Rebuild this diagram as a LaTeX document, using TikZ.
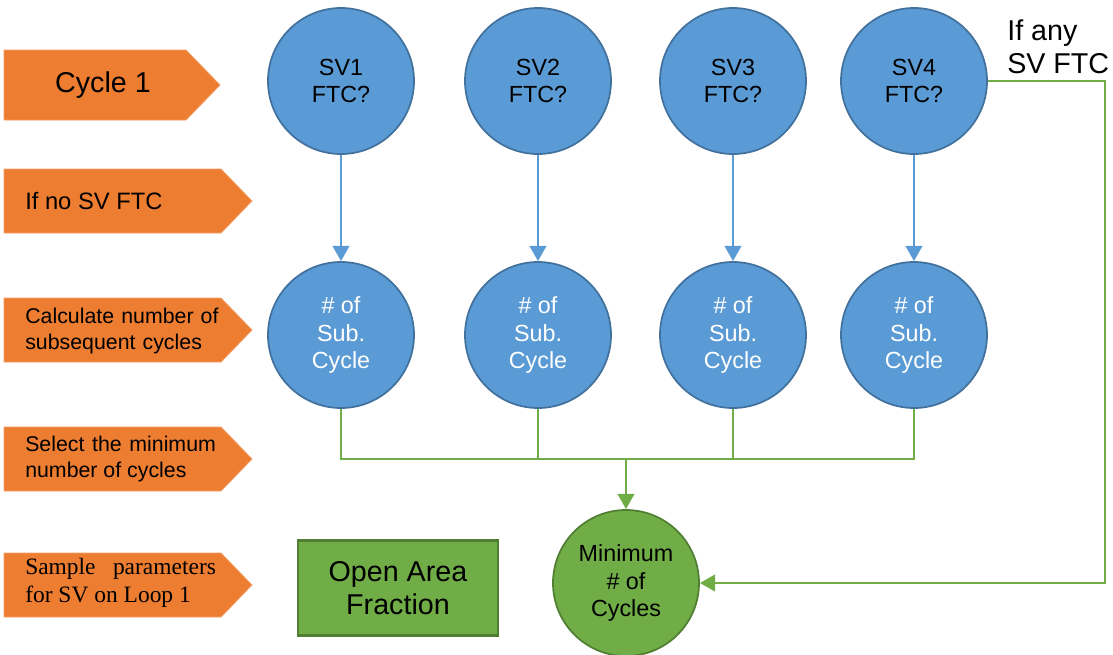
\documentclass[tikz,border=0pt]{standalone}
\usepackage{fontspec}
\setmainfont{Liberation Sans}
\newfontfamily\timesfont{Liberation Serif}
\usetikzlibrary{arrows.meta}

\definecolor{tagorange}{HTML}{ED7D31}
\definecolor{svblue}{HTML}{5B9BD5}
\definecolor{svborder}{HTML}{41719C}
\definecolor{mingreen}{HTML}{70AD47}
\definecolor{minborder}{HTML}{507E32}

\begin{document}
\begin{tikzpicture}[x=0.75pt, y=-0.75pt,
    tag/.style={fill=tagorange, draw=tagorange!75!white, line width=0.6pt},
    tagtext/.style={anchor=west, inner sep=0pt},
    svnode/.style={circle, fill=svblue, draw=svborder, line width=1.3pt,
        minimum size=109.5pt, inner sep=0pt, align=center,
        font=\fontsize{17.5}{20.5}\selectfont},
    flow/.style={svblue, line width=1.9pt, -{Triangle[length=11.5pt, width=12.5pt]}},
    mergeline/.style={mingreen, line width=1.9pt}]
    \useasboundingbox (0,0) rectangle (1113,654);

    % Row labels
    \draw[tag] (4,50) -- (186,50) -- (220,85) -- (186,120) -- (4,120) -- cycle;
    \node (cycle) at (103,85) {\fontsize{21.5}{24}\selectfont Cycle 1};
    \foreach \y in {169,298,427,553} {
        \draw[tag] (4,\y) -- (221,\y) -- (252,\y+32) -- (221,\y+64) -- (4,\y+64) -- cycle;
    }
    \node[tagtext, font=\fontsize{17.8}{20}\selectfont] (nosv) at (25,201) {If no SV FTC};
    \node[tagtext, text width=152pt, align=left, font=\fontsize{16}{18.8}\selectfont]
        (calc) at (25,331) {Calculate number of\\subsequent cycles};
    \node[tagtext, text width=143pt, align=justify, font=\fontsize{16}{18.8}\selectfont]
        (select) at (25,459) {Select the minimum number of cycles};
    \node[tagtext, text width=143pt, align=justify, font=\timesfont\fontsize{17.6}{21.5}\selectfont]
        (sample) at (25,583) {Sample parameters for SV on Loop 1};

    % SV checks and subsequent cycles
    \foreach \i/\x in {1/341, 2/538, 3/733, 4/914} {
        \node[svnode] (sv\i) at (\x,81) {SV\i\\FTC?};
        \node[svnode, text=white] (sub\i) at (\x,335) {\# of\\Sub.\\Cycle};
        \draw[flow] (sv\i) -- (sub\i);
    }

    % Minimum of the cycles
    \node[svnode, fill=mingreen, draw=minborder] (min) at (626,583) {Minimum\\\# of\\Cycles};
    \coordinate (merge) at (626,459);
    \foreach \i in {1,...,4} {
        \draw[mergeline] (sub\i.south) |- (merge);
    }
    \draw[mergeline, -{Triangle[length=11.5pt, width=12.5pt]}] (merge) -- (min);

    % Any SV FTC
    \node[anchor=west, inner sep=0pt, align=left, font=\fontsize{21.5}{24.75}\selectfont]
        (anyftc) at (1007,47) {If any\\SV FTC};
    \coordinate (bend) at (1105,335);
    \draw[mingreen, line width=0.9pt] (sv4.east) -| (bend);
    \draw[mergeline, -{Triangle[length=11.5pt, width=12.5pt]}] (bend) |- (min.east);

    % Open area fraction
    \node[draw=minborder, fill=mingreen, line width=1.8pt, minimum width=150pt,
        minimum height=71pt, align=center, font=\fontsize{21.5}{24.75}\selectfont]
        (oaf) at (398,588) {Open Area\\Fraction};
\end{tikzpicture}
\end{document}
